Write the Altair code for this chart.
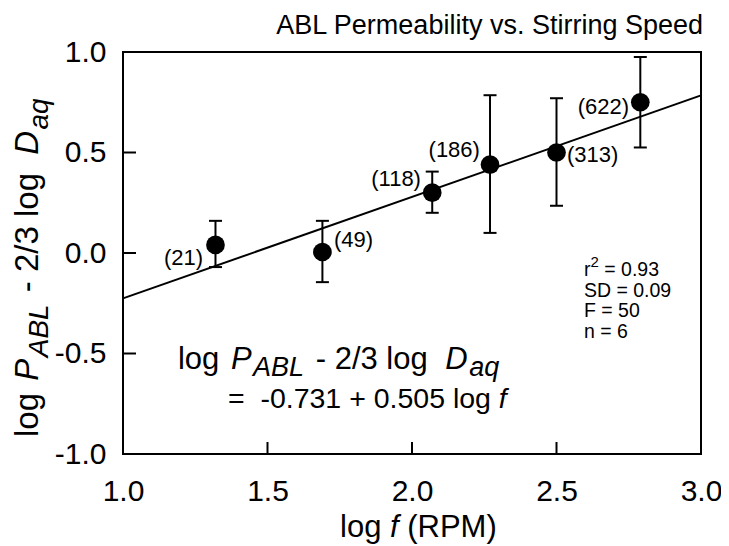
import altair as alt
import pandas as pd

# ---------------- data ----------------
log_f = [1.32, 1.69, 2.07, 2.27, 2.50, 2.79]
point_y = [0.04, 0.005, 0.30, 0.44, 0.50, 0.75]
err_hi = [0.16, 0.16, 0.405, 0.785, 0.77, 0.975]
err_lo = [-0.07, -0.145, 0.20, 0.10, 0.235, 0.525]
rpm_labels = ["(21)", "(49)", "(118)", "(186)", "(313)", "(622)"]
label_x = [1.277, 1.730, 2.031, 2.235, 2.536, 2.751]
label_y = [-0.025, 0.065, 0.368, 0.512, 0.488, 0.726]
label_side = ["right", "left", "right", "right", "left", "right"]
fit_x = [1.0, 3.0]
fit_y = [-0.226, 0.784]
x_ticks = [1.0, 1.5, 2.0, 2.5, 3.0]
y_ticks = [-1.0, -0.5, 0.0, 0.5, 1.0]
stats_lines = ["SD = 0.09", "F = 50", "n = 6"]
stats_line_y = [-0.187, -0.289, -0.391]
r2_value = "= 0.93"
r2_line_y = -0.085
stats_x = 2.595
eq1_pos = (1.190, -0.575)
eq2_pos = (1.363, -0.772)

FONT = "Liberation Sans"
W, H = 578, 402

XS = alt.Scale(domain=[1.0, 3.0], nice=False, zero=False)
YS = alt.Scale(domain=[-1.0, 1.0], nice=False, zero=False)

LABEL_EXPR = "datum.value < 0 ? '-' + format(-datum.value, '.1f') : format(datum.value, '.1f')"
X_AXIS = alt.Axis(values=x_ticks, labelExpr=LABEL_EXPR, title=None, grid=False, domain=False,
                  ticks=False, labelPadding=22, labelFontSize=30, labelFont=FONT,
                  labelColor="black", labelFlush=False, labelOverlap=False)
Y_AXIS = alt.Axis(values=y_ticks, labelExpr=LABEL_EXPR, title=None, grid=False, domain=False,
                  ticks=False, labelPadding=17, labelFontSize=30, labelFont=FONT,
                  labelColor="black", labelFlush=False, labelOverlap=False)


def XE(field="x"):
    return alt.X(f"{field}:Q", scale=XS, axis=X_AXIS, title=None)


def YE(field="y"):
    return alt.Y(f"{field}:Q", scale=YS, axis=Y_AXIS, title=None)


# Arial / Liberation Sans advance widths (per 1000 em)
ADV = {' ': 278, '(': 333, ')': 333, '-': 333, '.': 278, '/': 278, '=': 584, '+': 584,
       'A': 667, 'B': 667, 'D': 722, 'F': 611, 'L': 556, 'M': 833, 'P': 667, 'R': 722,
       'S': 667, 'a': 556, 'd': 556, 'e': 556, 'f': 278, 'g': 556, 'i': 222, 'l': 222,
       'n': 556, 'o': 556, 'p': 556, 'q': 556, 'r': 333, 's': 500, 't': 278}


def tw(s, size, extra=0.0):
    return sum(ADV.get(c, 556) for c in s) * size / 1000.0 + extra * s.count(" ")


def piece(text, pos=None, pix=None, **mark):
    df = pd.DataFrame({"t": [text], "x": [pos[0] if pos else 0.0], "y": [pos[1] if pos else 0.0]})
    ch = alt.Chart(df).mark_text(font=FONT, color="black", **mark)
    if pix is not None:
        enc = dict(x=alt.value(pix[0]), y=alt.value(pix[1]))
    else:
        enc = dict(x=XE(), y=YE())
    return ch.encode(text="t:N", **enc)


def rich(parts, angle=0, baseline="alphabetic", extra=0.0, **anchor):
    """parts: (text, font size, style, baseline shift, extra gap before)"""
    layers = []
    off = 0.0
    for text, size, style, dy, pre in parts:
        off += pre
        shown = text.strip()
        lead = len(text) - len(text.lstrip())
        kw = dict(align="left", baseline=baseline, fontSize=size, fontStyle=style,
                  dx=round(off + tw(" " * lead, size, extra), 1), dy=dy)
        if angle:
            kw["angle"] = angle
        if shown:
            layers.append(piece(shown, **anchor, **kw))
        off += tw(text, size, extra)
    return layers


# ---------------- data layers ----------------
pts = pd.DataFrame({"x": log_f, "y": point_y, "lo": err_lo, "hi": err_hi})
fit = pd.DataFrame({"x": fit_x, "y": fit_y})
labs = pd.DataFrame({"x": label_x, "y": label_y, "t": rpm_labels, "side": label_side})

fit_line = alt.Chart(fit).mark_line(color="black", strokeWidth=2).encode(x=XE(), y=YE())

err = alt.Chart(pts).mark_rule(color="black", strokeWidth=2).encode(x=XE(), y=YE("lo"), y2="hi:Q")
cap_hi = alt.Chart(pts).mark_tick(color="black", orient="horizontal", size=13, thickness=2,
                                  opacity=1).encode(x=XE(), y=YE("hi"))
cap_lo = alt.Chart(pts).mark_tick(color="black", orient="horizontal", size=13, thickness=2,
                                  opacity=1).encode(x=XE(), y=YE("lo"))
dots = alt.Chart(pts).mark_circle(color="black", size=350, opacity=1).encode(x=XE(), y=YE())

lab_layers = []
for side in ["left", "right"]:
    lab_layers.append(
        alt.Chart(labs).transform_filter(alt.datum.side == side).mark_text(
            font=FONT, fontSize=22, align=side, baseline="middle", color="black").encode(
            x=XE(), y=YE(), text="t:N"))

# inward ticks
xt = alt.Chart(pd.DataFrame({"x": x_ticks})).mark_rule(color="black", strokeWidth=2).encode(
    x=XE(), y=alt.value(H), y2=alt.value(H - 12))
yt = alt.Chart(pd.DataFrame({"y": y_ticks})).mark_rule(color="black", strokeWidth=2).encode(
    y=YE(), x=alt.value(0), x2=alt.value(13))

# ---------------- text ----------------
texts = []
texts.append(piece("ABL Permeability vs. Stirring Speed", pix=(580, -18), align="right",
                   baseline="alphabetic", fontSize=27))
# y-axis title
texts += rich([("log ", 33, "normal", 0, 0), ("P", 33, "italic", 0, 0), ("ABL", 28, "italic", 10, 1.5),
               (" - 2/3 log ", 33, "normal", 0, 0), ("D", 33, "italic", 0, 0),
               ("aq", 28, "italic", 10, 1.5)],
              angle=270, extra=3, pix=(-85, 385))
# x-axis title
texts += rich([("log ", 31, "normal", 0, 0), ("f", 31, "italic", 0, 0), (" (RPM)", 31, "normal", 0, 0)],
              pix=(217, 485))
# equation
texts += rich([("log ", 31, "normal", 0, 0), ("P", 31, "italic", 0, 0), ("ABL", 27, "italic", 7, 1.5),
               (" - 2/3 log ", 31, "normal", 0, 0), ("D", 31, "italic", 0, 0),
               ("aq", 27, "italic", 7, 1.5)],
              extra=3, pos=eq1_pos)
texts += rich([("=", 28.5, "normal", 0, 0), ("  -0.731 + 0.505 log ", 28.5, "normal", 0, 0),
               ("f", 28.5, "italic", 0, 0)],
              pos=eq2_pos)
# stats
texts += rich([("r", 19.5, "normal", 0, 0), ("2", 15, "normal", -8, 0), (" " + r2_value, 19.5, "normal", 0, 0)],
              baseline="middle", pos=(stats_x, r2_line_y))
for s, yv in zip(stats_lines, stats_line_y):
    texts.append(piece(s, pos=(stats_x, yv), align="left", baseline="middle", fontSize=19.5))

chart = alt.layer(fit_line, err, cap_hi, cap_lo, dots, *lab_layers, xt, yt, *texts).properties(
    width=W, height=H,
    padding={"left": 115, "top": 44, "right": 20, "bottom": 92},
    autosize=alt.AutoSizeParams(type="none"),
    background="white",
).configure_view(stroke="black", strokeWidth=2)

chart.save("out.html", embed_options={"renderer": "svg", "actions": False})
